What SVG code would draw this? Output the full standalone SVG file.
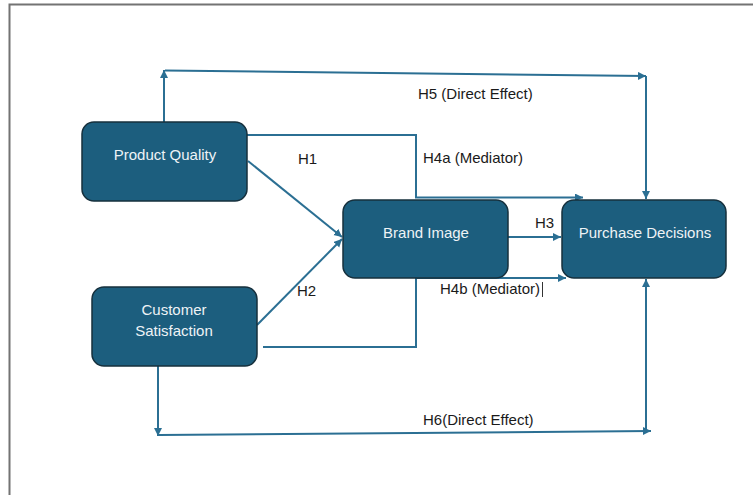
<svg xmlns="http://www.w3.org/2000/svg" width="753" height="495" viewBox="0 0 753 495">
  <style>
    .box { fill: #1c5e7e; stroke: #16303d; stroke-width: 1.5; }
    .ntext { font-family: "Liberation Sans", Arial, sans-serif; font-size: 15px; fill: #eef3f6; text-anchor: middle; }
    .lbl { font-family: "Liberation Sans", Arial, sans-serif; font-size: 15px; fill: #1a1a1a; }
    .conn { fill: none; stroke: #2b6f93; stroke-width: 2; }
    .arr { marker-end: url(#head); }
  </style>
  <defs>
    <marker id="head" markerUnits="userSpaceOnUse" markerWidth="9" markerHeight="9" refX="8" refY="4" orient="auto">
      <path d="M0,0 L8,4 L0,8 z" fill="#2b6f93"/>
    </marker>
  </defs>

  <rect width="753" height="495" fill="#ffffff"/>
  <!-- page frame -->
  <path d="M9.5,495 V4.5 H753" fill="none" stroke="#737373" stroke-width="2"/>

  <g id="connectors">
    <!-- H5 direct effect -->
    <path class="conn arr" d="M164,122 V70"/>
    <path class="conn arr" d="M165,70.5 L646,76"/>
    <path class="conn arr" d="M646,76 V199"/>
    <!-- H4a mediator -->
    <path class="conn arr" d="M247,135 H416 V197.5 H583"/>
    <!-- H1 -->
    <path class="conn arr" d="M248,161 L342,237"/>
    <!-- H2 -->
    <path class="conn arr" d="M257,325 L342,239"/>
    <!-- H3 -->
    <path class="conn arr" d="M508,237 H561"/>
    <!-- H4b mediator -->
    <path class="conn arr" d="M263,347 H416 V278 H566"/>
    <!-- H6 direct effect -->
    <path class="conn arr" d="M158,366 V436"/>
    <path class="conn arr" d="M159,435 L651,431"/>
    <path class="conn arr" d="M646,431 V279"/>
  </g>

  <g id="product-quality">
    <rect class="box" x="82" y="122" width="165" height="79" rx="12"/>
    <text class="ntext" x="165" y="160">Product Quality</text>
  </g>
  <g id="customer-satisfaction">
    <rect class="box" x="92" y="287" width="165" height="79" rx="12"/>
    <text class="ntext" x="174" y="315">Customer</text>
    <text class="ntext" x="174" y="336">Satisfaction</text>
  </g>
  <g id="brand-image">
    <rect class="box" x="343" y="200" width="165" height="78" rx="12"/>
    <text class="ntext" x="426" y="238">Brand Image</text>
  </g>
  <g id="purchase-decisions">
    <rect class="box" x="562" y="200" width="164" height="78" rx="12"/>
    <text class="ntext" x="645" y="238">Purchase Decisions</text>
  </g>

  <g id="labels">
    <text class="lbl" x="418" y="99">H5 (Direct Effect)</text>
    <text class="lbl" x="298" y="164">H1</text>
    <text class="lbl" x="423" y="163">H4a (Mediator)</text>
    <text class="lbl" x="535" y="228">H3</text>
    <text class="lbl" x="297" y="296">H2</text>
    <text class="lbl" x="440" y="294">H4b (Mediator)</text>
    <text class="lbl" x="423" y="425">H6(Direct Effect)</text>
  </g>
  <!-- text caret -->
  <line x1="542.5" y1="282" x2="542.5" y2="297" stroke="#333" stroke-width="1"/>
</svg>
